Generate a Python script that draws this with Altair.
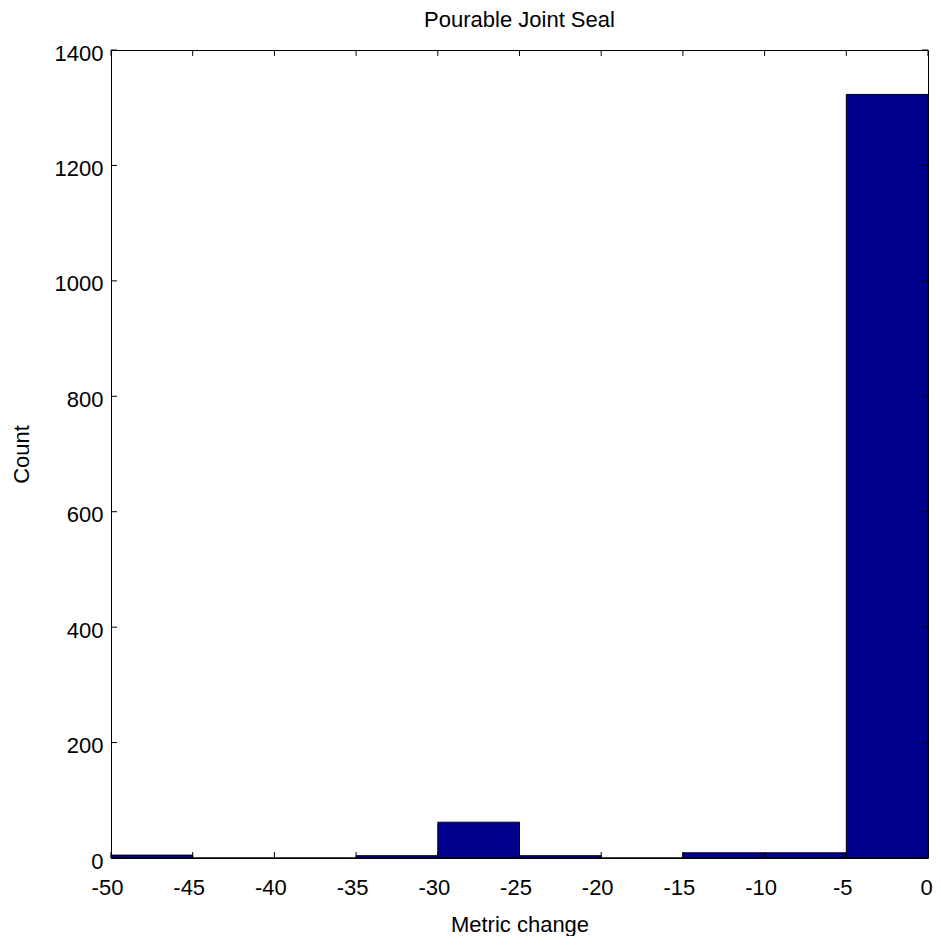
import altair as alt
import pandas as pd

bin_start = [-50, -45, -40, -35, -30, -25, -20, -15, -10, -5]
bin_end = [-45, -40, -35, -30, -25, -20, -15, -10, -5, 0]
counts = [5, 0, 0, 4, 62, 4, 0, 9, 9, 1323]
x_ticks = [-50, -45, -40, -35, -30, -25, -20, -15, -10, -5, 0]
y_ticks = [0, 200, 400, 600, 800, 1000, 1200, 1400]

W, H = 817, 808
FONT = "Liberation Sans"

df = pd.DataFrame({"start": bin_start, "end": bin_end, "count": counts})
xt = pd.DataFrame({"v": x_ticks})
yt = pd.DataFrame({"v": y_ticks})

xscale = alt.Scale(domain=[-50, 0], nice=False, zero=False)
yscale = alt.Scale(domain=[0, 1400], nice=False)

bars = alt.Chart(df).mark_bar(
    color="#00008F", stroke="black", strokeWidth=1
).encode(
    x=alt.X("start:Q", scale=xscale, title="Metric change",
            axis=alt.Axis(values=x_ticks, tickSize=0, labelPadding=19,
                          labelFlush=False, labelExpr="datum.value + ''",
                          labelOffset={"condition": {"test": "datum.value < 0", "value": -4}, "value": -2},
                          domain=False, grid=False, titlePadding=16)),
    x2="end:Q",
    y=alt.Y("count:Q", scale=yscale, title="Count",
            axis=alt.Axis(values=y_ticks, tickSize=0, labelPadding=8,
                          labelFlush=False, labelExpr="datum.value + ''",
                          labelOffset=3,
                          domain=False, grid=False, titlePadding=21)),
    y2=alt.datum(0),
)

tick_len = 6
xb = alt.Chart(xt).mark_rule(color="black").encode(
    x=alt.X("v:Q", scale=xscale), y=alt.value(H), y2=alt.value(H - tick_len))
xtop = alt.Chart(xt).mark_rule(color="black").encode(
    x=alt.X("v:Q", scale=xscale), y=alt.value(0), y2=alt.value(tick_len))
yl = alt.Chart(yt).mark_rule(color="black").encode(
    y=alt.Y("v:Q", scale=yscale), x=alt.value(0), x2=alt.value(tick_len))
yr = alt.Chart(yt).mark_rule(color="black").encode(
    y=alt.Y("v:Q", scale=yscale), x=alt.value(W), x2=alt.value(W - tick_len))

chart = alt.layer(bars, xb, xtop, yl, yr).properties(
    width=W, height=H,
    title=alt.TitleParams("Pourable Joint Seal", fontSize=22, font=FONT,
                          fontWeight="normal", offset=10, color="black"),
    autosize="none",
    padding={"left": 103, "top": 42, "right": 5, "bottom": 78},
).configure_view(
    stroke="black", strokeWidth=1
).configure_axis(
    labelFont=FONT, titleFont=FONT, labelFontSize=22, titleFontSize=22,
    labelColor="black", titleColor="black", titleFontWeight="normal",
)

chart.save("out.html", embed_options={"renderer": "svg", "actions": False})
